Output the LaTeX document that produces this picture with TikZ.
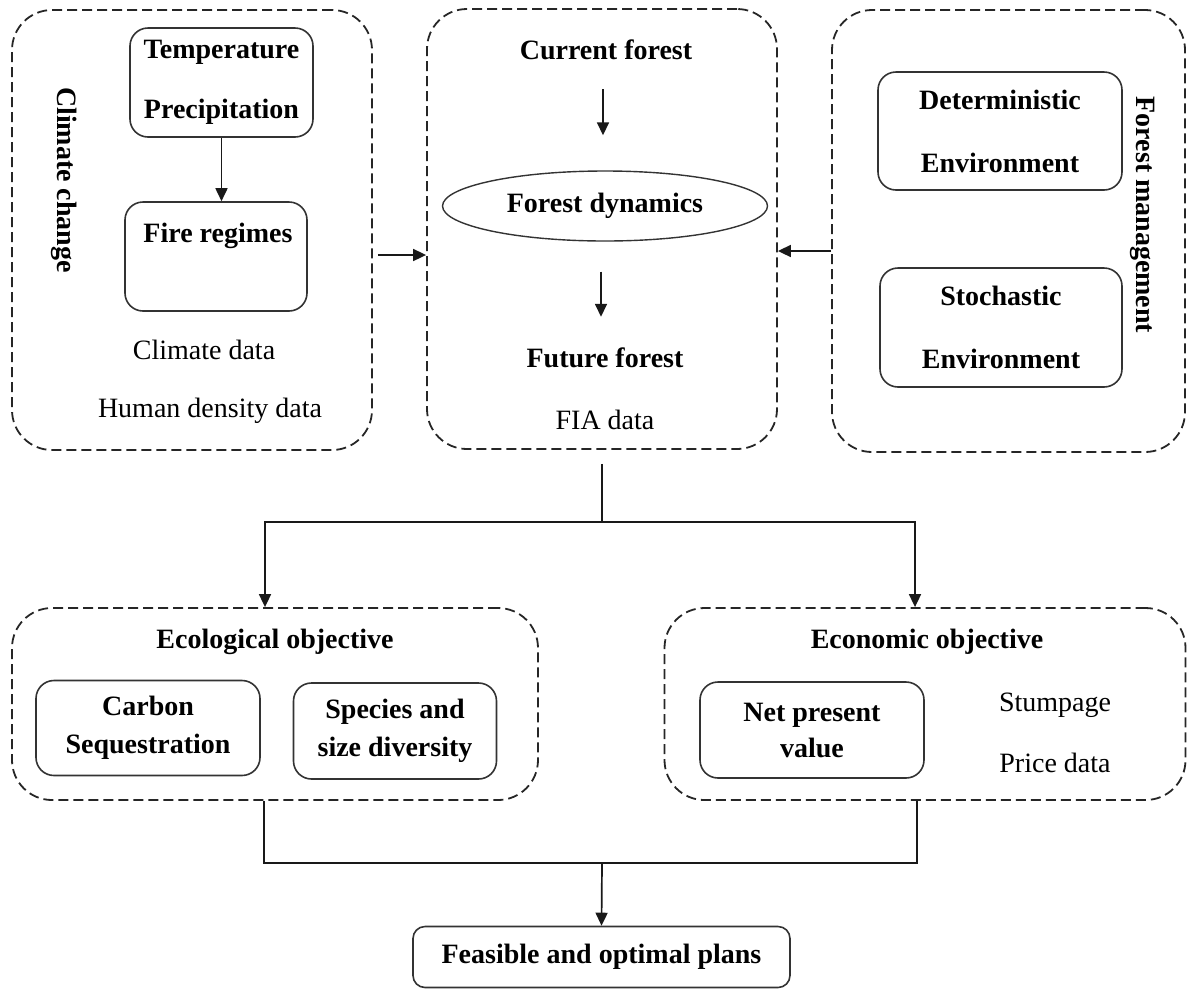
\documentclass[tikz,border=0pt]{standalone}
\usepackage{fontspec}
\setmainfont{Liberation Serif}
\usetikzlibrary{arrows.meta,shapes.geometric}
\begin{document}
\begin{tikzpicture}[x=1pt,y=-1pt,
  dbox/.style={draw=black!85, line width=1.8pt, dash pattern=on 10pt off 5pt, rounded corners=40pt, inner sep=0pt},
  sbox/.style={draw=black!80, line width=1.6pt, rounded corners=18pt, inner sep=0pt},
  bt/.style={font=\fontsize{28}{34}\selectfont\bfseries, inner sep=0pt},
  rt/.style={font=\fontsize{28}{34}\selectfont, inner sep=0pt},
  arr/.style={draw=black!90, line width=1.7pt, -{Triangle[length=13pt,width=12pt]}},
  ln/.style={draw=black!90, line width=1.7pt}]
\useasboundingbox (0,0) rectangle (1188,989);

% ---- Climate change ----
\node[dbox, minimum width=360pt, minimum height=440pt] (cc) at (192,230) {};
\node[sbox, minimum width=183pt, minimum height=109pt, align=center, font=\fontsize{28}{60}\selectfont\bfseries] (tp) at (221.5,82.5) {Temperature\\Precipitation};
\node[sbox, minimum width=182pt, minimum height=109pt] (fr) at (216,256.5) {};
\node[bt] (frt) at (218,236) {Fire regimes};
\node[bt, rotate=-90] (cct) at (64,180) {Climate change};
\node[rt] (cdat) at (204,350) {Climate data};
\node[rt] (hdat) at (210,411) {Human density data};
\draw[arr] (tp.south) -- (tp.south |- fr.north);

% ---- Forest dynamics ----
\node[dbox, minimum width=350pt, minimum height=440pt] (fm) at (602,229) {};
\node[bt] (cur) at (606,50) {Current forest};
\node[draw=black!80, line width=1.4pt, ellipse, minimum width=325pt, minimum height=70pt, inner sep=0pt, bt] (fd) at (605,206) {Forest dynamics};
\node[bt] (fut) at (605,358) {Future forest};
\node[rt] (fia) at (605,420) {FIA data};
\draw[arr] ([xshift=-3pt,yshift=-29pt]cur.south) -- ([xshift=-2pt,yshift=35pt]fd.north);
\draw[arr] ([xshift=-4pt,yshift=-30pt]fd.south) -- ([xshift=-4pt,yshift=31pt]fut.north);

% ---- Forest management ----
\node[dbox, minimum width=353pt, minimum height=442pt] (rb) at (1008.5,231) {};
\node[sbox, minimum width=244pt, minimum height=118pt, align=center, font=\fontsize{28}{63}\selectfont\bfseries] (det) at (1000,131) {Deterministic\\Environment};
\node[sbox, minimum width=242pt, minimum height=119pt, align=center, font=\fontsize{28}{63}\selectfont\bfseries] (sto) at (1001,327.5) {Stochastic\\Environment};
\node[bt, rotate=-90] (fmt) at (1143,215) {Forest management};

\draw[arr] ([xshift=5pt,yshift=-25pt]cc.east) -- ([yshift=-26pt]fm.west);
\draw[arr] ([yshift=-20pt]rb.west) -- ([yshift=-22pt]fm.east);

% ---- Objectives ----
\node[dbox, minimum width=526pt, minimum height=192pt] (eco) at (275,704) {};
\node[bt] (ecot) at (275,642) {Ecological objective};
\node[sbox, minimum width=224pt, minimum height=95pt, align=center, font=\fontsize{28}{38}\selectfont\bfseries] (carb) at (148,728) {Carbon\\Sequestration};
\node[sbox, minimum width=203pt, minimum height=96pt, align=center, font=\fontsize{28}{38}\selectfont\bfseries] (spec) at (395,731) {Species and\\size diversity};

\node[dbox, minimum width=521pt, minimum height=192pt] (econ) at (925,704) {};
\node[bt] (econt) at (927,642) {Economic objective};
\node[sbox, minimum width=224pt, minimum height=96pt, align=center, font=\fontsize{28}{36}\selectfont\bfseries] (npv) at (812,730) {Net present\\value};
\node[rt] (stump) at (1055,705) {Stumpage};
\node[rt] (price) at (1055,763) {Price data};

\node[sbox, minimum width=377pt, minimum height=61pt, bt, rounded corners=12pt] (fp) at (601.5,957) {Feasible and optimal plans};

% ---- Connectors ----
\coordinate (j1) at (602,522);
\coordinate (j2) at (602,863);
\draw[ln] ([yshift=-14pt]fm.south) -- (j1);
\draw[arr] (j1) -| ([xshift=-10pt]eco.north);
\draw[arr] (j1) -| ([xshift=-10pt]econ.north);
\draw[ln] ([xshift=-11pt]eco.south) |- (j2) -| ([xshift=-8pt]econ.south);
\draw[arr] (j2) -- (fp.north);
\end{tikzpicture}
\end{document}
